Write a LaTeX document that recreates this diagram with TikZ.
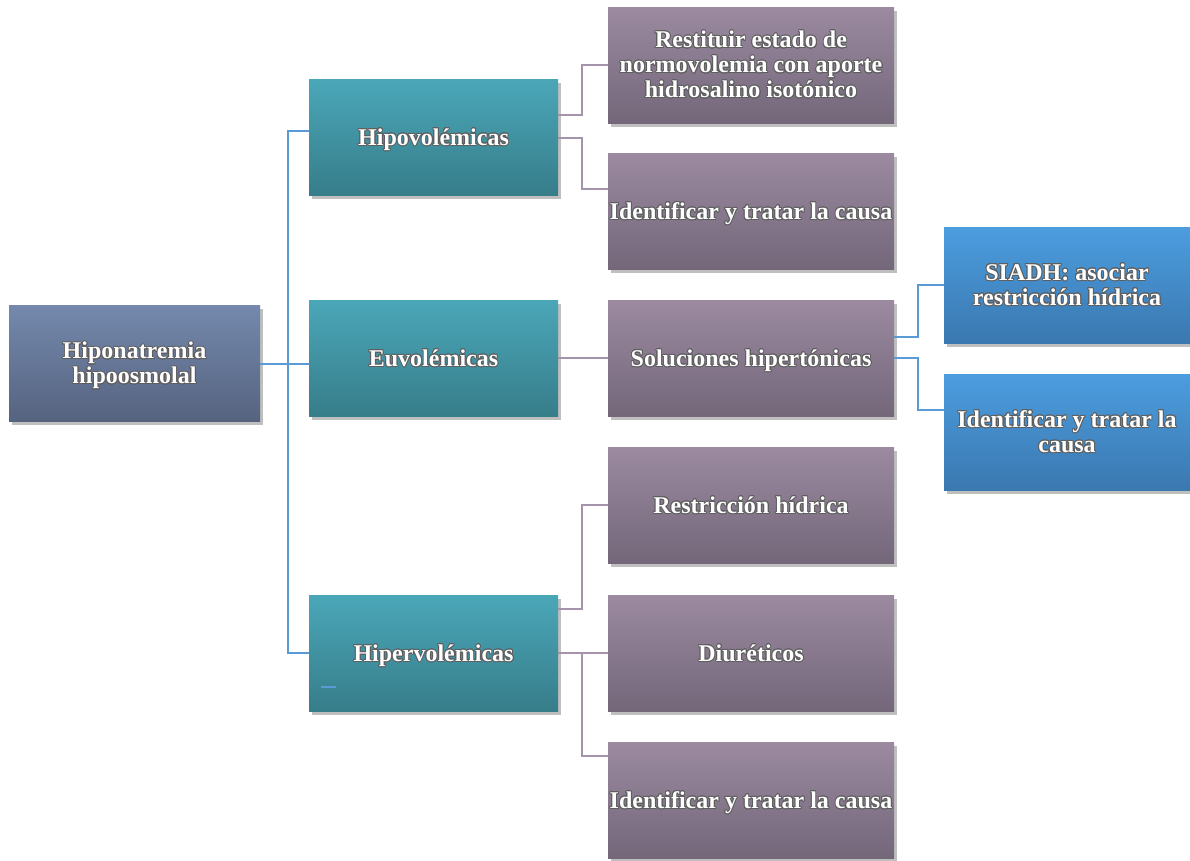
\documentclass[tikz,border=0pt]{standalone}
\usepackage{fontspec}
\setmainfont{Liberation Serif}
\usepackage{contour}
\contourlength{0.9pt}
\usetikzlibrary{shadows}
\definecolor{rootT}{HTML}{7489AD}
\definecolor{rootB}{HTML}{56637F}
\definecolor{tealT}{HTML}{4AA7B8}
\definecolor{tealB}{HTML}{377D8A}
\definecolor{purT}{HTML}{9B8AA0}
\definecolor{purB}{HTML}{74677A}
\definecolor{bluT}{HTML}{4C9DDF}
\definecolor{bluB}{HTML}{3A78B0}
\definecolor{lnBlue}{HTML}{5B9BD5}
\definecolor{lnPur}{HTML}{A393AB}
\definecolor{glow}{HTML}{5E5E5E}
\newcommand\gt[1]{\contour{glow}{#1}}
\tikzset{
  box/.style={rectangle, inner sep=0pt, minimum height=116pt, align=center,
    text=white, font=\fontsize{24}{25}\selectfont\bfseries,
    drop shadow={shadow xshift=2.5pt, shadow yshift=-3.5pt, opacity=0.25, fill=black}},
  low/.style={text depth=0pt},
  rootbox/.style={box, minimum width=251pt, top color=rootT, bottom color=rootB},
  tealbox/.style={box, low, minimum width=249pt, top color=tealT, bottom color=tealB},
  purbox/.style={box, minimum width=286pt, top color=purT, bottom color=purB},
  blubox/.style={box, minimum width=246pt, top color=bluT, bottom color=bluB},
  bline/.style={draw=lnBlue, line width=1.6pt},
  pline/.style={draw=lnPur, line width=1.6pt},
}
\begin{document}
\begin{tikzpicture}[x=1pt, y=-1pt]
\useasboundingbox (0,0) rectangle (1190,860);

\node[rootbox, text depth=-4pt] (root) at (134.5,363) {\gt{Hiponatremia}\\\gt{hipoosmolal}};
\node[tealbox] (hipo) at (433.5,137) {\gt{Hipovolémicas}};
\node[tealbox] (euv) at (433.5,358) {\gt{Euvolémicas}};
\node[tealbox] (hiper) at (433.5,653) {\gt{Hipervolémicas}};

\node[purbox] (p1) at (751,65) {\gt{Restituir estado de}\\\gt{normovolemia con aporte}\\\gt{hidrosalino isotónico}};
\node[purbox, low] (p2) at (751,211) {\gt{Identificar y tratar la causa}};
\node[purbox, low] (p3) at (751,358) {\gt{Soluciones hipertónicas}};
\node[purbox, low] (p4) at (751,505) {\gt{Restricción hídrica}};
\node[purbox, low] (p5) at (751,653) {\gt{Diuréticos}};
\node[purbox, low] (p6) at (751,800) {\gt{Identificar y tratar la causa}};

\node[blubox] (b1) at (1067,285) {\gt{SIADH: asociar}\\\gt{restricción hídrica}};
\node[blubox] (b2) at (1067,432) {\gt{Identificar y tratar la}\\\gt{causa}};

% root to categories
\draw[bline] ([yshift=-1pt]root.east) -- ++(28,0) coordinate (trunk);
\draw[bline] ([yshift=6pt]hipo.west) -| (trunk) |- (hiper.west);
\draw[bline] (trunk) -- (trunk -| euv.west);

% hipovolemicas
\draw[pline] ([yshift=22pt]hipo.east) -- ++(24,0) |- (p1.west);
\draw[pline] ([yshift=-1pt]hipo.east) -- ++(24,0) |- ([yshift=22pt]p2.west);

% euvolemicas
\draw[pline] (euv.east) -- (p3.west);
\draw[bline] ([yshift=21pt]p3.east) -- ++(24,0) |- (b1.west);
\draw[bline] (p3.east) -- ++(24,0) |- ([yshift=22pt]b2.west);

% hipervolemicas
\draw[pline] ([yshift=44pt]hiper.east) -- ++(24,0) |- (p4.west);
\draw[pline] (hiper.east) -- (p5.west);
\draw[pline] (hiper.east) -- ++(24,0) |- ([yshift=44pt]p6.west);

% small stray mark inside Hipervolemicas
\draw[bline] ([xshift=-112.5pt,yshift=-34pt]hiper.center) -- ++(15,0);
\end{tikzpicture}
\end{document}
